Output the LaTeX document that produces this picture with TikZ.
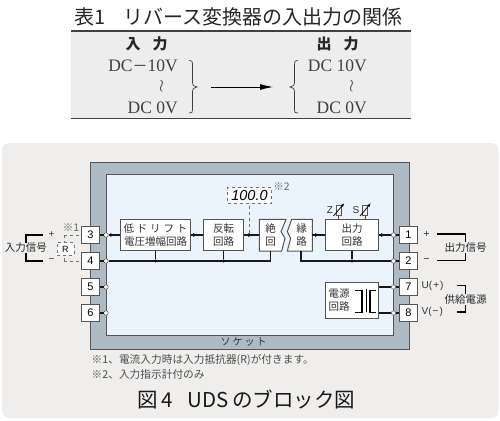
\documentclass[tikz,border=0pt]{standalone}
\usepackage{fontspec}
\setmainfont{Liberation Serif}
\newfontfamily\jpfont{Noto Sans CJK JP}
\newfontfamily\numfont{Liberation Sans}
\usepackage{amsmath}
\usepackage{xcolor}
\usetikzlibrary{arrows.meta, calc, positioning, decorations.markings}
\definecolor{panelgray}{HTML}{EFEEED}
\definecolor{tablegray}{HTML}{EDEDED}
\definecolor{socketgray}{HTML}{AEBBC5}
\definecolor{innerblue}{HTML}{EBF4FC}
\definecolor{boxedge}{HTML}{555555}
\definecolor{labelgray}{HTML}{333333}
\tikzset{
  blockbox/.style={draw=boxedge, line width=1pt, fill=white, align=center, inner sep=0pt, font=\jpfont\fontsize{10.5}{13}\selectfont, text=labelgray},
  blocktext/.style={align=center, inner sep=0pt, font=\jpfont\fontsize{10.5}{13}\selectfont, text=labelgray},
  termbox/.style={draw=boxedge, line width=1pt, fill=white, minimum width=17.5pt, minimum height=17.5pt, inner sep=0pt, font=\numfont\fontsize{11}{12}\selectfont},
  port/.style={circle, draw=boxedge, line width=0.5pt, fill=white, minimum size=4.5pt, inner sep=0pt},
  wire/.style={line width=1.3pt, black!90},
  thinwire/.style={line width=0.6pt, black!70},
  flow/.style={wire, postaction={decorate}, decoration={markings, mark=at position 0.6 with {\arrow{Latex[length=5pt,width=4pt]}}}},
  dashwire/.style={line width=0.6pt, dashed, black!55},
  bracketline/.style={line width=1.2pt, black},
  junction/.style={circle, fill=black, minimum size=3.4pt, inner sep=0pt},
  trimbox/.style={draw=boxedge, line width=0.6pt, fill=white, minimum width=5pt, minimum height=10pt, inner sep=0pt},
  jptext/.style={font=\jpfont\fontsize{10.7}{12}\selectfont, inner sep=0pt, text=labelgray},
  tabletext/.style={font=\fontsize{17.5}{18}\selectfont, inner sep=0pt, text=black!75},
  headtext/.style={font=\jpfont\bfseries\fontsize{15}{16}\selectfont, inner sep=0pt, text=black!85}
}
\begin{document}
\begin{tikzpicture}[x=1pt, y=-1pt]
  \useasboundingbox (0,0) rectangle (500,420);

  % Table
  \node[font=\jpfont\fontsize{20}{22}\selectfont, inner sep=0pt, text=black!85] (tabletitle) at (238.5,17) {表1\hspace{0.9em}リバース変換器の入出力の関係};
  \fill[tablegray] (71,31) rectangle (411,118.5);
  \draw[line width=1.3pt, black!75] (71,31) -- (411,31);
  \draw[line width=1.3pt, black!75] (71,118.5) -- (411,118.5);
  \node[headtext] (inhead) at (146.5,44) {入\hspace{0.8em}力};
  \node[headtext] (outhead) at (337.5,44) {出\hspace{0.8em}力};
  \node[tabletext, anchor=east] (inhigh) at (178,65.5) {DC{\jpfont\fontsize{15}{16}\selectfont －}10V};
  \node[tabletext] (inwave) at (161.5,86.5) {$\wr$};
  \node[tabletext, anchor=east] (inlow) at (178,108) {DC 0V};
  \node[tabletext, anchor=east] (outhigh) at (367,65.5) {DC 10V};
  \node[tabletext] (outwave) at (351.5,86.5) {$\wr$};
  \node[tabletext, anchor=east] (outlow) at (367,108) {DC 0V};
  \draw[line width=0.7pt, black!75] (189,60.5) .. controls (192,60.5) and (192.5,61) .. (192.5,64) -- (192.5,82) .. controls (192.5,85.5) and (194,86.5) .. (197,87) .. controls (194,87.5) and (192.5,88.5) .. (192.5,92) -- (192.5,110) .. controls (192.5,112.5) and (192,113) .. (189,113);
  \draw[line width=0.7pt, black!75] (298,60.5) .. controls (295,60.5) and (294.5,61) .. (294.5,64) -- (294.5,82) .. controls (294.5,85.5) and (293,86.5) .. (290,87) .. controls (293,87.5) and (294.5,88.5) .. (294.5,92) -- (294.5,110) .. controls (294.5,112.5) and (295,113) .. (298,113);
  \coordinate (arrowstart) at (211,87);
  \coordinate (arrowend) at (273,87);
  \draw[line width=0.8pt, -{Latex[length=13pt,width=6pt]}] (arrowstart) -- (arrowend);

  % Panel and socket
  \fill[panelgray, rounded corners=7pt] (2,143) rectangle (498.5,418);
  \fill[socketgray] (90,162) rectangle (409,349);
  \draw[line width=0.7pt, boxedge] (90,162) rectangle (409,349);
  \fill[innerblue] (106,174.5) rectangle (393.5,335);
  \draw[line width=1pt, boxedge] (106,174.5) rectangle (393.5,335);
  \node[jptext, font=\jpfont\fontsize{10}{12}\selectfont] (sockettext) at (243.5,342) {ソ\hspace{2pt}ケ\hspace{2pt}ッ\hspace{2pt}ト};

  % Terminals
  \node[termbox] (t3) at (90.5,235) {3};
  \node[termbox] (t4) at (90.5,261) {4};
  \node[termbox] (t5) at (90.5,287) {5};
  \node[termbox] (t6) at (90.5,313) {6};
  \node[termbox] (t1) at (408.5,235) {1};
  \node[termbox] (t2) at (408.5,261) {2};
  \node[termbox] (t7) at (408.5,287) {7};
  \node[termbox] (t8) at (408.5,313) {8};
  \node[port] (p3) at (106,235) {};
  \node[port] (p4) at (106,261) {};
  \node[port] (p5) at (106,287) {};
  \node[port] (p6) at (106,313) {};
  \node[port] (p1) at (393.5,235) {};
  \node[port] (p2) at (393.5,261) {};
  \node[port] (p7) at (393.5,287) {};
  \node[port] (p8) at (393.5,313) {};

  % Blocks
  \node[blockbox, minimum width=70pt, minimum height=31.5pt] (amp) at (155.5,235) {\hbox to 64pt{低\hfil ド\hfil リ\hfil フ\hfil ト}\\電圧増幅回路};
  \node[blockbox, minimum width=40.5pt, minimum height=31.5pt] (inv) at (223.5,235) {反転\\回路};
  \node[blockbox, minimum width=52.5pt, minimum height=31.5pt] (outc) at (352,235) {出力\\回路};
  \node[blockbox, minimum width=52.5pt, minimum height=35.5pt] (psu) at (352,300.5) {};
  \node[blocktext] (psutext) at (339,300.5) {電源\\回路};

  % Isolation blocks with a broken edge
  \coordinate (isobase) at (270.7,251);
  \coordinate (linbase) at (301,251);
  \draw[line width=1pt, boxedge, fill=white] (259.3,219.3) -- (286,219.3) -- (281,231.7) -- (285,238.3) -- (281.7,251) -- (259.3,251) -- cycle;
  \draw[line width=1pt, boxedge, fill=white] (312.3,219.3) -- (291.7,219.3) -- (287.3,231.7) -- (290.7,238.3) -- (287.3,251) -- (312.3,251) -- cycle;
  \node[blocktext] (isotext) at (270.5,235) {絶\\回};
  \node[blocktext] (lintext) at (301.5,235) {縁\\路};
  \coordinate (isoin) at (259.3,235);
  \coordinate (linout) at (312.3,235);

  % Indicator
  \node[draw=black!55, dashed, line width=0.6pt, fill=white, minimum width=44pt, minimum height=15.5pt, inner sep=0pt, font=\numfont\itshape\fontsize{14.5}{15}\selectfont] (meter) at (249.5,195.5) {100.0};
  \node[font=\jpfont\fontsize{10.5}{11}\selectfont, inner sep=0pt, text=black!60] (note2) at (281.5,187) {※2};
  \node[junction] (metertap) at (249,235) {};
  \draw[dashwire] (metertap) -- (metertap |- meter.south);

  % Signal path
  \draw[wire] (t3) -- (p3);
  \draw[wire] (t4) -- (p4);
  \draw[wire] (t5) -- (p5);
  \draw[wire] (t6) -- (p6);
  \draw[wire] (t1) -- (p1);
  \draw[wire] (t2) -- (p2);
  \draw[wire] (t7) -- (p7);
  \draw[wire] (t8) -- (p8);
  \draw[flow] (p3) -- (amp);
  \draw[flow] (amp) -- (inv);
  \draw[flow] (inv) -- (isoin);
  \draw[flow] (linout) -- (outc);
  \draw[flow] (outc) -- (p1);

  % Common rails
  \draw[wire] (p4) -| (isobase);
  \draw[wire] (p2) -| (linbase);
  \node[junction] (ampdot) at (amp.south |- p4) {};
  \node[junction] (invdot) at (inv.south |- p4) {};
  \node[junction] (outdot) at (outc.south |- p2) {};
  \draw[wire] (amp) -- (ampdot);
  \draw[wire] (inv) -- (invdot);
  \draw[wire] (outc) -- (outdot);

  % Power block
  \draw[wire] (psu.east |- p7) -- (p7);
  \draw[wire] (psu.east |- p8) -- (p8);
  \coordinate (coretop) at (366,288.5);
  \coordinate (corebottom) at (366,312);
  \draw[line width=2.6pt] (362,289.5) -- (362,312.5);
  \draw[line width=2.6pt] (370,289.5) -- (370,312.5);
  \draw[line width=0.6pt] (coretop) -- (corebottom);
  \draw[line width=0.9pt] (355,290) -- (362,290);
  \draw[line width=0.9pt] (355,312) -- (362,312);
  \draw[line width=0.9pt] (370,290) -- (376,290);
  \draw[line width=0.9pt] (370,312) -- (376,312);

  % Trimmers
  \node[trimbox] (ztrim) at (338.5,210) {};
  \node[trimbox] (strim) at (365,210) {};
  \draw[thinwire] (ztrim) -- (ztrim |- outc.north);
  \draw[thinwire] (strim) -- (strim |- outc.north);
  \node[jptext, font=\numfont\fontsize{10}{11}\selectfont] (zlabel) at (330,210) {Z};
  \node[jptext, font=\numfont\fontsize{10}{11}\selectfont] (slabel) at (356,210) {S};
  \draw[line width=0.8pt, -{Latex[length=4pt,width=3pt]}] ($(ztrim)+(-5,6)$) -- ($(ztrim)+(6,-7)$);
  \draw[line width=0.8pt, -{Latex[length=4pt,width=3pt]}] ($(strim)+(-5,6)$) -- ($(strim)+(6,-7)$);

  % Input side
  \node[jptext, font=\jpfont\fontsize{10.5}{12}\selectfont, text=black!85] (insig) at (26,248) {入力信号};
  \coordinate (intop) at (43,235);
  \coordinate (inbot) at (43,261);
  \draw[bracketline] (intop) -| (insig.north);
  \draw[bracketline] (inbot) -| (insig.south);
  \node[jptext, font=\numfont\fontsize{10}{11}\selectfont] (inplus) at (51.5,234.5) {+};
  \node[jptext, font=\numfont\fontsize{10}{11}\selectfont] (inminus) at (51.5,261) {−};
  \node[draw=black!55, dashed, line width=0.6pt, fill=white, minimum width=17pt, minimum height=12.5pt, inner sep=0pt, font=\numfont\fontsize{9}{10}\selectfont] (rbox) at (65.3,249) {R};
  \coordinate (intap3) at (64,235);
  \coordinate (intap4) at (64,261);
  \draw[dashwire] (intap3) -- (t3);
  \draw[dashwire] (intap4) -- (t4);
  \draw[dashwire] (intap3) -- (intap3 |- rbox.north);
  \draw[dashwire] (intap4) -- (intap4 |- rbox.south);
  \node[font=\jpfont\fontsize{10.5}{11}\selectfont, inner sep=0pt, text=black!60] (note1) at (71,228) {※1};

  % Output side
  \node[jptext] (plusout) at (426.5,234.5) {\numfont +};
  \node[jptext] (minusout) at (426.5,261) {\numfont −};
  \coordinate (outtop) at (436.7,234);
  \coordinate (outbot) at (436.7,260.5);
  \node[jptext, font=\jpfont\fontsize{10.5}{12}\selectfont, text=black!85] (outsig) at (465.5,247.5) {出力信号};
  \draw[bracketline] (outtop) -| (outsig.north);
  \draw[bracketline] (outbot) -| (outsig.south);
  \node[jptext, font=\numfont\fontsize{10}{11}\selectfont, anchor=west] (ulabel) at (421.5,286) {U(\hspace{1pt}+\hspace{1pt})};
  \node[jptext, font=\numfont\fontsize{10}{11}\selectfont, anchor=west] (vlabel) at (421.5,312) {V(\hspace{1pt}−\hspace{1pt})};
  \coordinate (powtop) at (456.7,285.7);
  \coordinate (powbot) at (456.7,312);
  \node[jptext, font=\jpfont\fontsize{10.5}{12}\selectfont, text=black!85] (powsig) at (465.5,299.5) {供給電源};
  \draw[bracketline] (powtop) -| (powsig.north);
  \draw[bracketline] (powbot) -| (powsig.south);

  % Notes and caption
  \node[jptext, anchor=west, text=black!70] (noteone) at (91.5,360.5) {※1、電流入力時は入力抵抗器(R)が付きます。};
  \node[jptext, anchor=west, text=black!70] (notetwo) at (91.5,374) {※2、入力指示計付のみ};
  \node[font=\jpfont\fontsize{20.5}{22}\selectfont, inner sep=0pt, text=black!90] (caption) at (246.5,399) {図\,4\hspace{0.7em}UDS\,のブロック図};
\end{tikzpicture}
\end{document}
